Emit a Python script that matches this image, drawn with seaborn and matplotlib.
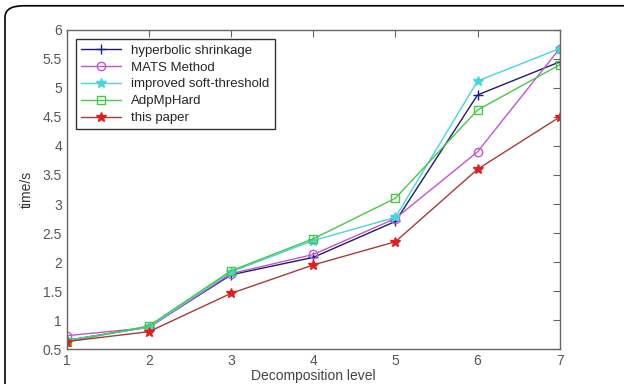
import seaborn as sns
import pandas as pd
import matplotlib.pyplot as plt
from matplotlib.patches import FancyBboxPatch

levels = [1, 2, 3, 4, 5, 6, 7]
hyperbolic = [0.65, 0.88, 1.78, 2.08, 2.70, 4.88, 5.45]
mats = [0.73, 0.87, 1.80, 2.13, 2.75, 3.90, 5.68]
improved = [0.65, 0.88, 1.83, 2.37, 2.77, 5.12, 5.68]
adpmphard = [0.62, 0.90, 1.85, 2.40, 3.10, 4.62, 5.40]
this_paper = [0.63, 0.80, 1.46, 1.95, 2.35, 3.60, 4.50]

names = ["hyperbolic shrinkage", "MATS Method", "improved soft-threshold", "AdpMpHard", "this paper"]
series = [hyperbolic, mats, improved, adpmphard, this_paper]
colors = ["#1c1c70", "#c058c8", "#48d4dc", "#48c848", "#a83a3a"]
mcolors = ["#1c1c90", "#c058c8", "#48d4dc", "#48c848", "#e02020"]
markers = ["+", "o", "*", "s", "*"]

sns.set_style("white")
plt.rcParams["font.family"] = ["Liberation Sans", "DejaVu Sans"]

fig = plt.figure(figsize=(6.24, 3.84), dpi=100)
fig.patches.append(FancyBboxPatch((0.008, -0.05), 1.05, 1.035, boxstyle="round,pad=0,rounding_size=0.03",
                                  transform=fig.transFigure, fill=False, edgecolor="black", linewidth=1.2))
ax = fig.add_axes([0.107, 0.091, 0.79, 0.831])

for name, vals, c, mc, m in zip(names, series, colors, mcolors, markers):
    dat = pd.DataFrame({"level": levels, "time": vals})
    sns.lineplot(x="level", y="time", data=dat, ax=ax, color=c, marker=m, markersize=7 if m in "+*" else 6,
                 markerfacecolor="none" if m in "os" else mc, markeredgecolor=mc, markeredgewidth=1.0,
                 linewidth=1.0, label=name)

ax.set_xlim(1, 7)
ax.set_ylim(0.5, 6)
ax.set_xticks(levels)
ax.set_yticks([0.5, 1, 1.5, 2, 2.5, 3, 3.5, 4, 4.5, 5, 5.5, 6])
ax.set_yticklabels(["0.5", "1", "1.5", "2", "2.5", "3", "3.5", "4", "4.5", "5", "5.5", "6"])
ax.tick_params(direction="in", length=5, top=True, right=True, labelsize=10, colors="#666666",
               labelcolor="#555555")
for s in ax.spines.values():
    s.set_color("#666666")
    s.set_linewidth(1.0)
ax.set_xlabel("Decomposition level", fontsize=10, color="#444444", labelpad=1)
ax.set_ylabel("time/s", fontsize=10, color="#333333", labelpad=6)
leg = ax.legend(loc="upper left", fontsize=9.5, frameon=True, fancybox=False, handlelength=3.0,
                borderaxespad=0.7, labelspacing=0.35)
leg.get_frame().set_edgecolor("black")
leg.get_frame().set_linewidth(1.0)

fig.savefig("out.png", dpi=100)
